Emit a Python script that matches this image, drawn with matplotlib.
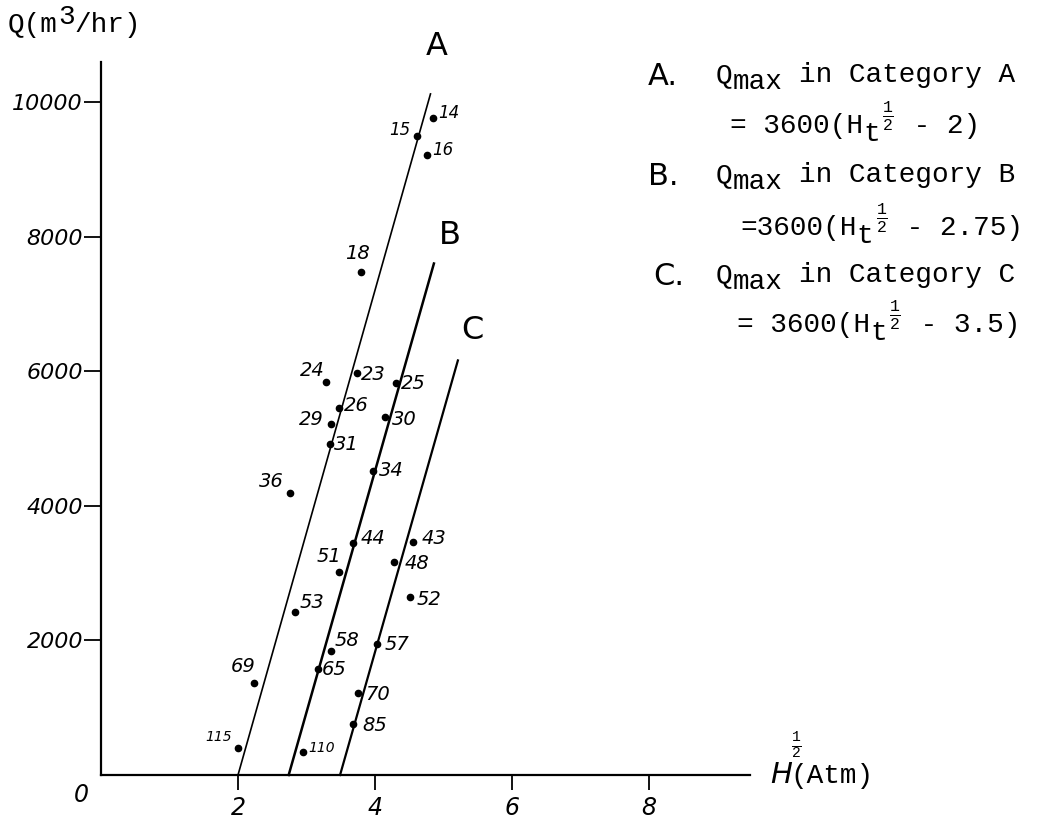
import matplotlib
matplotlib.use('Agg')
import matplotlib.pyplot as plt

plt.rcParams['mathtext.fontset'] = 'custom'
plt.rcParams['mathtext.rm'] = 'Liberation Mono'
plt.rcParams['mathtext.it'] = 'Liberation Mono'
plt.rcParams['mathtext.bf'] = 'Liberation Mono'

# ---- data ----
well_ids = [14, 15, 16, 18, 24, 23, 25, 26, 29, 30, 31, 34, 36, 44, 43,
            51, 48, 52, 53, 58, 57, 65, 69, 70, 85, 115, 110]
head_sqrt = [4.85, 4.61, 4.76, 3.80, 3.28, 3.74, 4.30, 3.47, 3.36, 4.15, 3.34, 3.97, 2.76, 3.68, 4.56,
             3.47, 4.28, 4.51, 2.83, 3.36, 4.03, 3.17, 2.23, 3.75, 3.68, 2.00, 2.95]
flow = [9760, 9500, 9210, 7470, 5840, 5970, 5830, 5450, 5220, 5320, 4920, 4520, 4190, 3450, 3460,
        3020, 3170, 2650, 2420, 1840, 1950, 1580, 1370, 1220, 760, 400, 340]

categories = ['A', 'B', 'C']
line_h = [[2.00, 4.81], [2.74, 4.86], [3.49, 5.21]]
line_q = [[0, 10120], [0, 7600], [0, 6160]]
intercepts = ['2', '2.75', '3.5']

x_ticks = [2, 4, 6, 8]
y_ticks = [2000, 4000, 6000, 8000, 10000]

# ---- layout (pixels of the 1038x822 picture) ----
W, H = 1038, 822
X0, Y0 = 101, 775           # pixel of the origin
PXX, PXY = 68.5, 0.0673     # pixels per unit on each axis
MONO = 'Liberation Mono'
HAND = 'DejaVu Sans'
CW = 0.6 * 20 * 100 / 72    # width of one mono char at 20pt

# label offsets (pixels, right/up) for the well numbers
label_off = [(16, 5), (-17, 6), (16, 5), (-4, 19), (-13, 11), (16, -1), (18, -1), (18, 3), (-20, 4),
             (19, -3), (17, -1), (18, 0), (-19, 12), (20, 4), (21, 4), (-10, 15), (23, -2), (19, -3),
             (17, 10), (16, 11), (20, -1), (16, -1), (-11, 16), (20, -2), (22, -2), (-19, 11), (19, 4)]
small_labels = {14: 12, 15: 12, 16: 12, 115: 10, 110: 10}
cat_label_pos = [(4.905, 10830), (5.095, 8010), (5.416, 6610)]
cat_lw = [1.2, 1.8, 1.6]

fig = plt.figure(figsize=(W / 100, H / 100), dpi=100)
ax = fig.add_axes([0, 0, 1, 1])
ax.set_xlim(-X0 / PXX, (W - X0) / PXX)
ax.set_ylim(-(H - Y0) / PXY, Y0 / PXY)

for s in ['top', 'right']:
    ax.spines[s].set_visible(False)
ax.spines['left'].set_position(('data', 0))
ax.spines['bottom'].set_position(('data', 0))
ax.spines['left'].set_bounds(0, 10590)
ax.spines['bottom'].set_bounds(0, 9.47)
ax.spines['left'].set_linewidth(1.6)
ax.spines['bottom'].set_linewidth(1.6)

ax.set_xticks(x_ticks)
ax.set_xticklabels([str(t) for t in x_ticks], family=HAND, fontstyle='italic', size=17)
ax.set_yticks(y_ticks)
ax.set_yticklabels([str(t) for t in y_ticks], family=HAND, fontstyle='italic', size=16)
ax.tick_params(axis='x', direction='out', length=11, width=1.3, pad=4)
ax.tick_params(axis='y', direction='out', length=12, width=1.3, pad=1)
ax.text(-0.28, -290, '0', family=HAND, fontstyle='italic', size=17, ha='center', va='center')

# category lines
for name, xs, ys, lw, pos in zip(categories, line_h, line_q, cat_lw, cat_label_pos):
    ax.plot(xs, ys, color='black', lw=lw)
    ax.text(pos[0], pos[1], name, family=HAND, size=23, ha='center', va='center')

# wells
ax.plot(head_sqrt, flow, 'o', color='black', ms=4.5, ls='none')
for wid, x, y, off in zip(well_ids, head_sqrt, flow, label_off):
    ax.annotate(str(wid), (x, y), xytext=off, textcoords='offset pixels',
                ha='center', va='center', family=HAND, fontstyle='italic',
                size=small_labels.get(wid, 14))


def ftext(s, x, y, **kw):
    return fig.text(x / W, 1 - y / H, s, **kw)


def mono(s, x, y, size=20):
    return ftext(s, x, y, family=MONO, size=size, ha='left', va='baseline')


# axis titles
mono('Q(m', 8, 32)
mono('3', 8 + 3 * CW, 24)
mono('/hr)', 8 + 4 * CW, 32)

ftext('H', 770, 783, family=HAND, fontstyle='italic', size=21, ha='left', va='baseline')
ftext(r'$\frac{\mathbf{1}}{\mathbf{2}}$', 796, 746, size=15, ha='center', va='center')
mono('(Atm)', 790, 783)

# formulas on the right
legend_base = [82, 182, 282]
formula_base = [133, 235, 332]
formula_x0 = [730, 740, 737]
formula_prefix = ['= 3600(H', '=3600(H', '= 3600(H']
letter_x = [648, 648, 653]
for name, b1, b2, x0, pre, lx, ic in zip(categories, legend_base, formula_base, formula_x0,
                                         formula_prefix, letter_x, intercepts):
    ftext(name + '.', lx, b1 + 3, family=HAND, size=22, ha='left', va='baseline')
    mono('Q', 716, b1)
    mono('max', 716 + CW, b1 + 7)
    mono('in Category ' + name, 716 + 5 * CW, b1)
    n = len(pre)
    mono(pre, x0, b2)
    mono('t', x0 + n * CW, b2 + 8)
    ftext(r'$\frac{1}{2}$', x0 + (n + 1.5) * CW, b2 - 17, size=17, ha='center', va='center')
    mono(' - ' + ic + ')', x0 + (n + 2) * CW, b2)

fig.savefig('out.png', dpi=100)
